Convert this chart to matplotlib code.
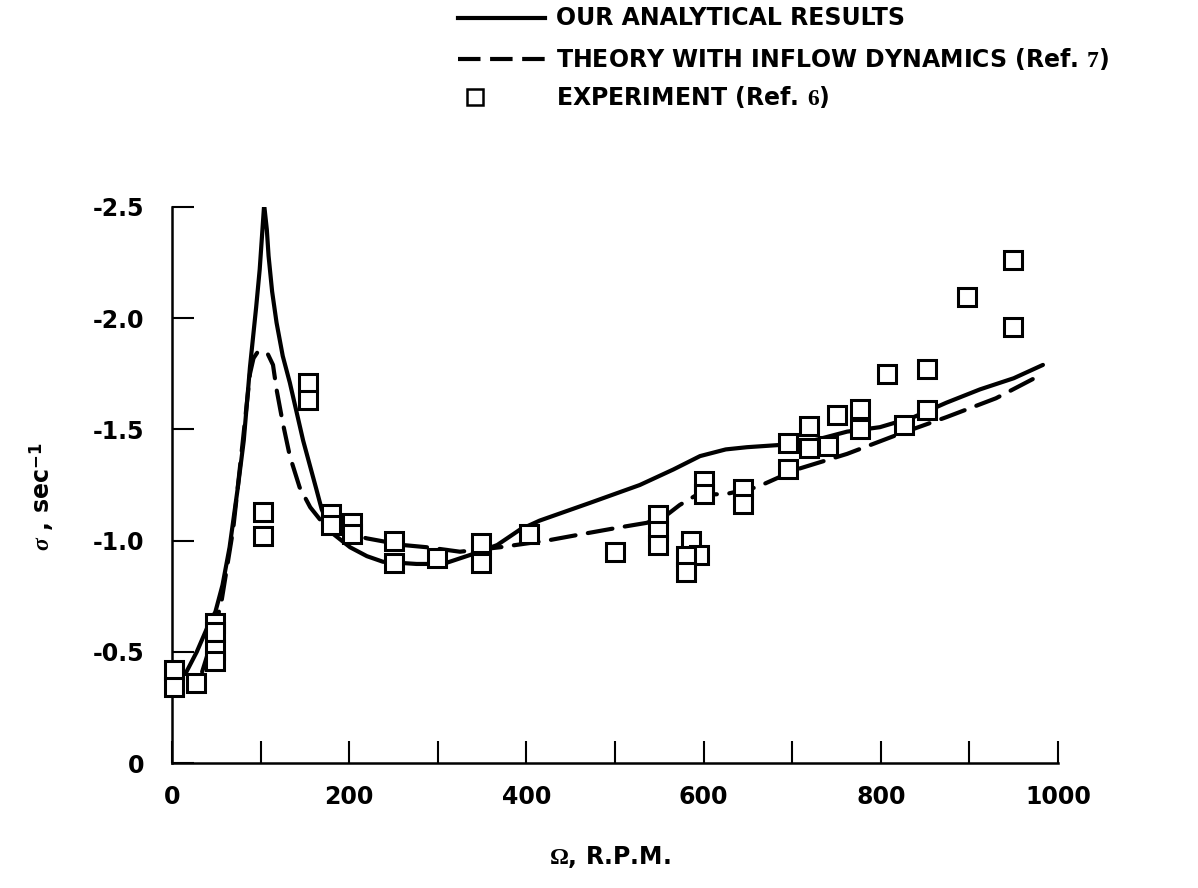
import matplotlib
matplotlib.use("Agg")
import matplotlib.pyplot as plt
from matplotlib.lines import Line2D

plt.rcParams['font.family'] = ['DejaVu Sans']
plt.rcParams['font.weight'] = 'bold'
plt.rcParams['mathtext.fontset'] = 'custom'
plt.rcParams['mathtext.rm'] = 'Liberation Serif'
plt.rcParams['mathtext.it'] = 'Liberation Serif:italic'
plt.rcParams['mathtext.bf'] = 'DejaVu Sans:bold'

# ---- data ----
solid_x = [15, 28, 41, 49, 57, 65, 74, 81, 88, 95, 99, 104, 107, 109, 113, 118, 125, 133,
           148, 163, 169, 182, 201, 220, 238, 276, 306, 340, 367, 393, 415, 472, 528,
           566, 596, 625, 649, 686, 724, 762, 799, 837, 874, 912, 950, 983]
solid_y = [-0.40, -0.50, -0.62, -0.68, -0.80, -0.97, -1.23, -1.45, -1.78, -2.05, -2.22,
           -2.51, -2.40, -2.28, -2.12, -1.98, -1.83, -1.71, -1.45, -1.23, -1.14, -1.03,
           -0.97, -0.93, -0.905, -0.895, -0.895, -0.94, -0.98, -1.05, -1.09, -1.17, -1.25,
           -1.32, -1.38, -1.41, -1.42, -1.43, -1.45, -1.49, -1.51, -1.555, -1.62, -1.68,
           -1.73, -1.79]

dash_x = [34, 45, 56, 69, 80, 88, 92, 97, 102, 108, 114, 118, 125, 133, 144, 156, 170,
          190, 220, 261, 288, 325, 370, 423, 464, 506, 536, 560, 573, 592, 626, 660, 705,
          762, 818, 874, 930, 983]
dash_y = [-0.41, -0.55, -0.73, -1.05, -1.45, -1.75, -1.82, -1.85, -1.85, -1.84, -1.79,
          -1.68, -1.53, -1.38, -1.24, -1.15, -1.08, -1.04, -1.01, -0.98, -0.97, -0.95,
          -0.97, -1.00, -1.03, -1.06, -1.08, -1.12, -1.16, -1.205, -1.21, -1.24, -1.32,
          -1.39, -1.475, -1.555, -1.64, -1.75]

exp_x = [2, 2, 27, 49, 49, 49, 49, 103, 103, 153, 153, 180, 180, 203, 203, 250, 250, 299,
         349, 349, 403, 500, 549, 549, 549, 586, 595, 580, 580, 601, 601, 645, 645, 695,
         695, 719, 719, 740, 751, 776, 776, 807, 826, 852, 852, 897, 949, 949]
exp_y = [-0.42, -0.34, -0.36, -0.63, -0.59, -0.51, -0.46, -1.13, -1.02, -1.71, -1.63,
         -1.12, -1.07, -1.08, -1.03, -1.00, -0.90, -0.92, -0.99, -0.90, -1.03, -0.95,
         -1.115, -1.045, -0.98, -1.00, -0.935, -0.93, -0.86, -1.27, -1.21, -1.23, -1.165,
         -1.44, -1.32, -1.515, -1.415, -1.425, -1.565, -1.59, -1.50, -1.75, -1.52, -1.77,
         -1.585, -2.095, -2.26, -1.96]

x_ticks = [0, 200, 400, 600, 800, 1000]
x_ticklabels = ["0", "200", "400", "600", "800", "1000"]
x_minor = [100, 300, 500, 700, 900]
y_ticks = [0, -0.5, -1.0, -1.5, -2.0, -2.5]
y_ticklabels = ["0", "-0.5", "-1.0", "-1.5", "-2.0", "-2.5"]

legend_labels = ["OUR ANALYTICAL RESULTS",
                 r"THEORY WITH INFLOW DYNAMICS (Ref. $\mathrm{7}$)",
                 r"EXPERIMENT (Ref. $\mathrm{6}$)"]

# ---- figure ----
fig = plt.figure(figsize=(11.98, 8.88), dpi=100)
ax = fig.add_axes([172/1198, 1-763/888, (1058-172)/1198, (763-207)/888])

ax.plot(solid_x, solid_y, color='black', lw=3.0, solid_joinstyle='round',
        solid_capstyle='round', zorder=2)
ax.plot(dash_x, dash_y, color='black', lw=3.0, dashes=(6, 3), dash_capstyle='round',
        zorder=2)
ax.plot(exp_x, exp_y, ls='none', marker='s', ms=13.5, mfc='white', mec='black',
        mew=2.2, zorder=3, clip_on=False)

ax.set_xlim(0, 1000)
ax.set_ylim(0, -2.5)
ax.set_xticks(x_ticks)
ax.set_xticklabels(x_ticklabels)
ax.set_xticks(x_minor, minor=True)
ax.set_yticks(y_ticks)
ax.set_yticklabels(y_ticklabels)

for s in ['top', 'right']:
    ax.spines[s].set_visible(False)
for s in ['left', 'bottom']:
    ax.spines[s].set_linewidth(1.8)

ax.tick_params(axis='both', which='both', direction='in', length=16, width=1.5,
               labelsize=17)
ax.tick_params(axis='x', which='both', pad=16)
ax.tick_params(axis='y', which='both', pad=20)
for lab in ax.get_xticklabels() + ax.get_yticklabels():
    lab.set_fontweight('bold')

fig.text(610/1198, 1-857/888, r"$\Omega$, R.P.M.", ha='center', va='center',
         fontsize=17, fontweight='bold')
fig.text(42/1198, 1-497/888, r"$\sigma$ , sec$^{\mathbf{-1}}$", ha='center',
         va='center', rotation=90, fontsize=17, fontweight='bold')

# ---- legend (manual) ----
ly = [1-18/888, 1-59/888, 1-97/888]
fig.add_artist(Line2D([458/1198, 545/1198], [ly[0], ly[0]], color='black', lw=3.0,
                      transform=fig.transFigure))
fig.add_artist(Line2D([458/1198, 545/1198], [ly[1], ly[1]], color='black', lw=3.0,
                      dashes=(5.4, 2.3), transform=fig.transFigure))
fig.add_artist(Line2D([475/1198], [ly[2]], ls='none', marker='s', ms=11, mfc='white',
                      mec='black', mew=1.8, transform=fig.transFigure))
for y, t in zip(ly, legend_labels):
    fig.text(556/1198, y, t, ha='left', va='center', fontsize=17, fontweight='bold')

fig.savefig("out.png", dpi=100)
